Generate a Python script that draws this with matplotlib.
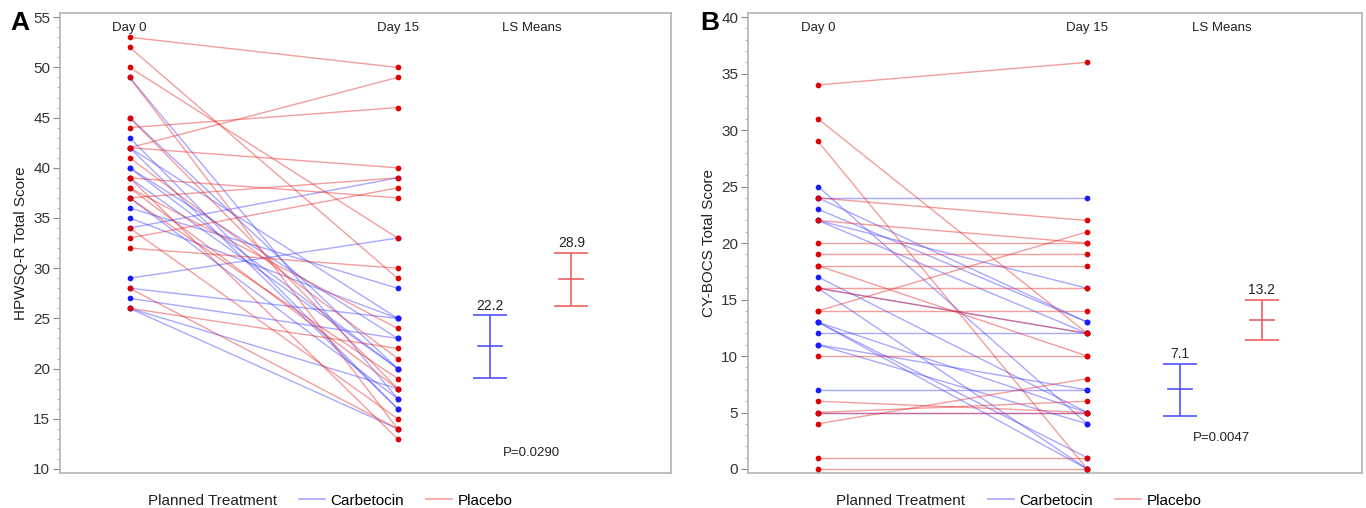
import matplotlib
matplotlib.use("Agg")
import matplotlib.pyplot as plt
from matplotlib.lines import Line2D
from matplotlib.ticker import MultipleLocator

plt.rcParams['font.family'] = ['Liberation Sans', 'DejaVu Sans']

# ---------------- data ----------------
timepoints = ["Day 0", "Day 15"]
groups = ["Carbetocin", "Placebo"]

# Panel A: HPWSQ-R (Day 0, Day 15) pairs
a_carb_day0 = [49, 45, 43, 42, 40, 40, 37, 36, 35, 34, 29, 28, 27, 26, 26, 42, 39]
a_carb_day15 = [17, 20, 16, 25, 20, 23, 17, 28, 25, 39, 33, 25, 23, 14, 18, 16, 20]
a_plac_day0 = [53, 52, 50, 49, 45, 44, 42, 42, 41, 39, 38, 37, 37, 34, 33, 32, 28, 26, 39, 38]
a_plac_day15 = [50, 29, 33, 14, 18, 46, 49, 40, 21, 37, 24, 39, 19, 15, 38, 30, 14, 22, 13, 18]
a_ls_mean = [22.2, 28.9]
a_ls_low = [19.1, 26.2]
a_ls_high = [25.3, 31.5]
a_pvalue = "P=0.0290"

# Panel B: CY-BOCS (Day 0, Day 15) pairs
b_carb_day0 = [25, 24, 23, 22, 22, 17, 16, 16, 13, 13, 12, 11, 11, 7, 5, 24, 13]
b_carb_day15 = [4, 24, 13, 16, 12, 5, 12, 0, 5, 0, 12, 7, 4, 7, 5, 13, 1]
b_plac_day0 = [34, 31, 29, 24, 22, 20, 19, 18, 18, 16, 14, 14, 10, 6, 5, 5, 4, 1, 0, 16]
b_plac_day15 = [36, 12, 0, 22, 20, 20, 19, 18, 10, 16, 21, 14, 10, 5, 6, 5, 8, 1, 0, 12]
b_ls_mean = [7.1, 13.2]
b_ls_low = [4.7, 11.4]
b_ls_high = [9.3, 15.0]
b_pvalue = "P=0.0047"

# ---------------- style ----------------
BLUE_LINE = (0.25, 0.25, 1.0, 0.45)
RED_LINE = (0.9, 0.15, 0.15, 0.45)
BLUE_DOT = "#1a1aff"
RED_DOT = "#e00000"
EB_BLUE = "#5050ff"
EB_RED = "#ec6060"
GRID_GREY = "#b4b4b4"

x_time = [0.0, 1.0]
x_ls = [1.345, 1.648]
x_ls_label = 1.50

fig = plt.figure(figsize=(13.66, 5.08), dpi=100)
axA = fig.add_axes([0.0439, 0.069, 0.4473, 0.905])
axB = fig.add_axes([0.5476, 0.069, 0.4494, 0.905])


def draw_panel(ax, carb0, carb15, plac0, plac15, means, lows, highs, pval,
               ylim, ymajor, ylabel, letter, letter_x, pval_y):
    for d0, d15 in zip(carb0, carb15):
        ax.plot(x_time, [d0, d15], color=BLUE_LINE, lw=1.0, zorder=2)
    for d0, d15 in zip(plac0, plac15):
        ax.plot(x_time, [d0, d15], color=RED_LINE, lw=1.0, zorder=2)
    ax.scatter([x_time[0]] * len(carb0), carb0, s=17, color=BLUE_DOT, zorder=3, lw=0)
    ax.scatter([x_time[1]] * len(carb15), carb15, s=17, color=BLUE_DOT, zorder=3, lw=0)
    ax.scatter([x_time[0]] * len(plac0), plac0, s=17, color=RED_DOT, zorder=4, lw=0)
    ax.scatter([x_time[1]] * len(plac15), plac15, s=17, color=RED_DOT, zorder=4, lw=0)

    cols = [EB_BLUE, EB_RED]
    for xi, m, lo, hi, c in zip(x_ls, means, lows, highs, cols):
        ax.errorbar([xi], [m], yerr=[[m - lo], [hi - m]], fmt='none', ecolor=c,
                    elinewidth=1.2, capsize=12, capthick=1.2, zorder=3)
        ax.plot([xi - 0.045, xi + 0.045], [m, m], color=c, lw=1.2, zorder=3)
        ax.annotate(f"{m:.1f}", (xi, hi), xytext=(0, 2), textcoords='offset points',
                    ha='center', va='bottom', fontsize=10, color='#222222')

    ax.set_xlim(-0.26, 2.02)
    ax.set_ylim(*ylim)
    ax.set_xticks([])
    ax.yaxis.set_major_locator(MultipleLocator(ymajor))
    ax.yaxis.set_minor_locator(MultipleLocator(1))
    ax.tick_params(axis='y', which='major', length=5, width=0.8, color='#888888',
                   labelsize=11, labelcolor='#333333', pad=2)
    ax.tick_params(axis='y', which='minor', length=2.5, width=0.6, color='#aaaaaa')
    for s in ax.spines.values():
        s.set_color(GRID_GREY)
        s.set_linewidth(1.2)
    ax.set_ylabel(ylabel, fontsize=11, color='#222222', labelpad=4)

    top = ylim[1] - (ylim[1] - ylim[0]) * 0.033
    for xi, t in zip(x_time, timepoints):
        ax.text(xi, top, t, ha='center', va='center', fontsize=9.5, color='#222222')
    ax.text(x_ls_label, top, "LS Means", ha='center', va='center', fontsize=9.5,
            color='#222222')
    ax.text(x_ls_label, pval_y, pval, ha='center', va='center', fontsize=9.5,
            color='#222222')
    ax.text(letter_x, 1.004, letter, transform=ax.transAxes, fontsize=19,
            fontweight='heavy', ha='center', va='top')


draw_panel(axA, a_carb_day0, a_carb_day15, a_plac_day0, a_plac_day15,
           a_ls_mean, a_ls_low, a_ls_high, a_pvalue, (9.6, 55.4), 5,
           "HPWSQ-R Total Score", "A", -0.066, 11.6)
draw_panel(axB, b_carb_day0, b_carb_day15, b_plac_day0, b_plac_day15,
           b_ls_mean, b_ls_low, b_ls_high, b_pvalue, (-0.35, 40.35), 5,
           "CY-BOCS Total Score", "B", -0.062, 2.7)

# legends
handles = [Line2D([0], [0], color=BLUE_LINE, lw=1.2),
           Line2D([0], [0], color=RED_LINE, lw=1.2)]
for ax in (axA, axB):
    ax.text(0.144, -0.06, "Planned Treatment", transform=ax.transAxes, fontsize=11,
            ha='left', va='center', color='#222222')
    ax.legend(handles, groups, loc='center left', bbox_to_anchor=(0.391, -0.06),
              ncol=2, frameon=False, fontsize=11, handlelength=1.7,
              handletextpad=0.35, columnspacing=1.45, borderaxespad=0, borderpad=0)

fig.savefig("out.png", dpi=100)
